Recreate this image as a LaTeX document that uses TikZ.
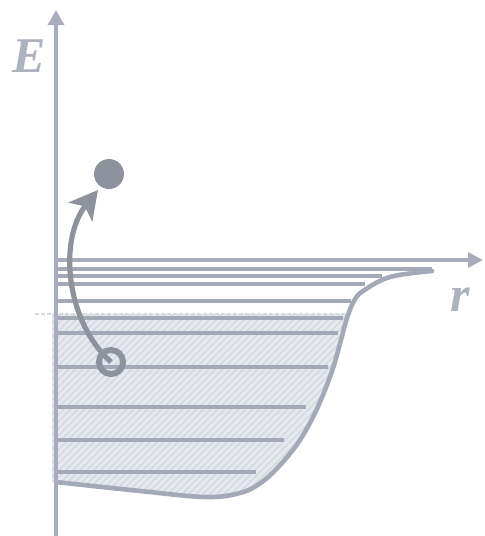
\documentclass[tikz,border=0pt]{standalone}
\usepackage{fontspec}
\setmainfont{Liberation Serif}
\usetikzlibrary{arrows.meta}
\definecolor{axc}{HTML}{A7ADBB}
\definecolor{lvc}{HTML}{A3A9B6}
\definecolor{txc}{HTML}{ADB2C0}
\definecolor{arc}{HTML}{8E929D}
\definecolor{fillc}{HTML}{E6E9EE}
\definecolor{hatc}{HTML}{D6D9E0}
\tikzset{
  axis/.style={draw=axc,line width=3.4pt},
  level/.style={draw=lvc,line width=3.3pt},
  well/.style={draw=lvc,line width=4.6pt,line cap=round},
  jump/.style={draw=arc,line width=5.2pt},
  hatch/.style={draw=hatc,line width=1.6pt},
  lbl/.style={text=txc,font=\fontsize{50}{50}\selectfont\bfseries\itshape,inner sep=0pt}
}
\newcommand{\wellpts}{(56,482) (140,491) (205,497) (240,493) (262,482) (282,463) (300,440) (314,415) (325,390) (334,365) (341,340) (347,318) (354,301) (363,291) (390,277) (432,271)}
\begin{document}
\begin{tikzpicture}[x=1pt,y=-1pt]
\useasboundingbox (0,0) rectangle (485,536);
% hatched filled region
\begin{scope}
\clip (52,482) -- plot[smooth,tension=0.6] coordinates {\wellpts} -- (440,150) -- (52,150) -- cycle;
\fill[fillc] (52,314) rectangle (445,540);
\clip (52,314) rectangle (445,540);
\foreach \i in {-200,-193,...,460} {
  \draw[hatch] (\i,540) -- ++(230,-230);
}
\end{scope}
\draw[draw=hatc,line width=1.8pt,dash pattern=on 4pt off 2pt] (35,314) -- (352,314);
% levels
\draw[level] (56,269) coordinate (L0) -- (432,269) coordinate (R0);
\draw[level] (56,276) coordinate (L1) -- (382,276) coordinate (R1);
\draw[level] (56,284) coordinate (L2) -- (365,284) coordinate (R2);
\draw[level] (56,301) coordinate (L3) -- (351,301) coordinate (R3);
\draw[level] (56,318) coordinate (L4) -- (343,318) coordinate (R4);
\draw[level] (56,333) coordinate (L5) -- (338,333) coordinate (R5);
\draw[level] (56,367) coordinate (L6) -- (328,367) coordinate (R6);
\draw[level] (56,407) coordinate (L7) -- (306,407) coordinate (R7);
\draw[level] (56,440) coordinate (L8) -- (284,440) coordinate (R8);
\draw[level] (56,472) coordinate (L9) -- (256,472) coordinate (R9);
% potential curve
\draw[well] plot[smooth,tension=0.6] coordinates {\wellpts};
% axes
\coordinate (O) at (56,260);
\coordinate (Ybot) at (56,536);
\coordinate (Ytop) at (56,10);
\coordinate (Xend) at (483,260);
\draw[axis,-{Triangle[length=15pt,width=16pt]}] (Ybot) -- (Ytop);
\draw[axis,-{Triangle[length=15pt,width=15pt]}] (O) -- (Xend);
\node[lbl] (E) at (29,56) {E};
\node[lbl] (r) at (460,300) {r};
% electron jump
\node[circle,draw=arc,line width=6pt,minimum size=24pt,inner sep=0pt] (hole) at (111,362) {};
\node[circle,fill=arc,minimum size=30pt,inner sep=0pt] (el) at (109,174) {};
\draw[jump,-{Stealth[length=28pt,width=30pt,inset=7pt]}] (hole.center) .. controls (66,322) and (58,240) .. (98,190);
\end{tikzpicture}
\end{document}
